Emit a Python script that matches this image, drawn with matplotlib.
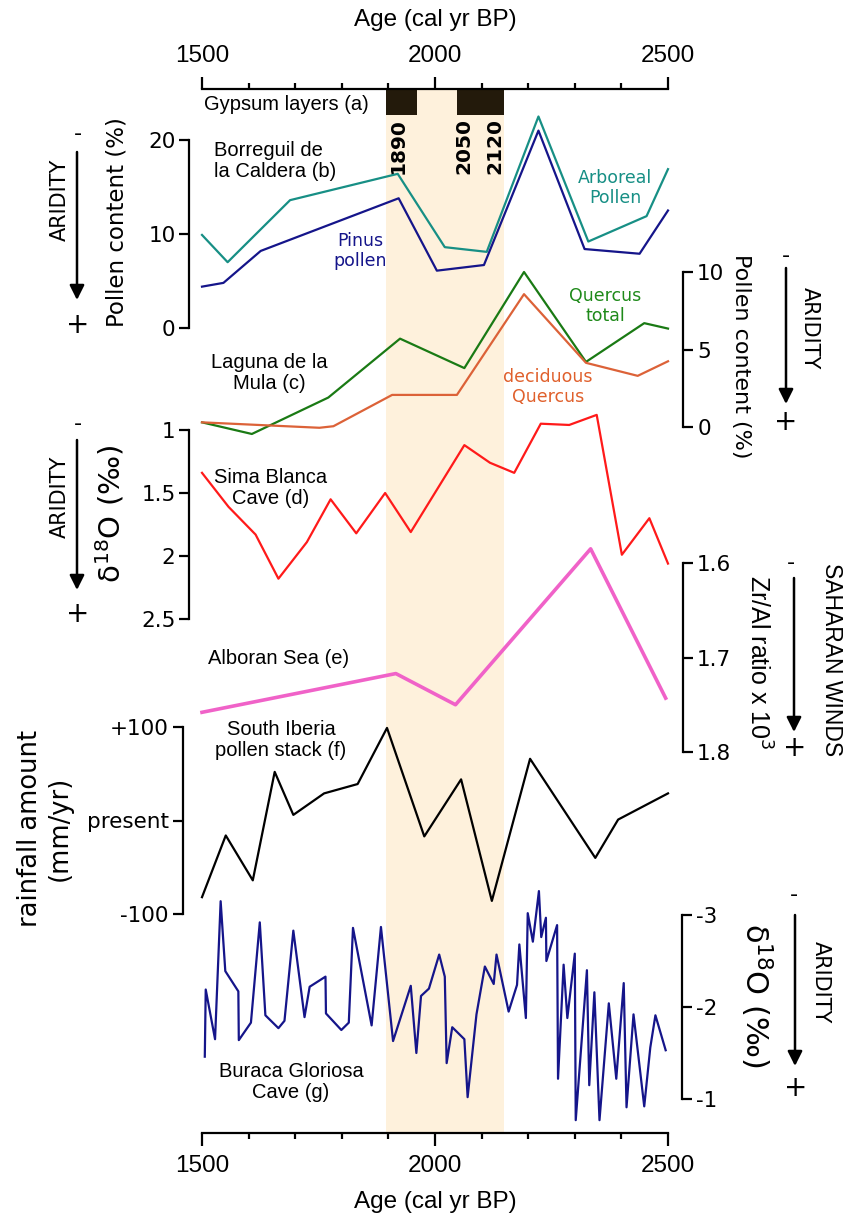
import matplotlib
matplotlib.use('Agg')
import matplotlib.pyplot as plt
from matplotlib.ticker import MultipleLocator

plt.rcParams['font.family'] = 'DejaVu Sans'
plt.rcParams['axes.unicode_minus'] = False

# ---- data ----
band = (1895, 2147)
gypsum_layers = [(1895, 1962), (2047, 2147)]
gypsum_labels = ['1890', '2050', '2120']
gypsum_label_age = [1920, 2062, 2129]

# (b) Borreguil de la Caldera, pollen %
arboreal_age = [1500, 1555, 1689, 1920, 2021, 2111, 2222, 2329, 2454, 2500]
arboreal = [9.9, 7.0, 13.6, 16.4, 8.6, 8.1, 22.5, 9.2, 11.9, 16.9]
pinus_age = [1500, 1546, 1626, 1922, 2004, 2105, 2222, 2321, 2439, 2500]
pinus = [4.4, 4.8, 8.2, 13.8, 6.1, 6.7, 21.0, 8.4, 7.9, 12.5]

# (c) Laguna de la Mula, pollen %
quercus_age = [1500, 1607, 1771, 1925, 2063, 2191, 2324, 2449, 2500]
quercus = [0.3, -0.45, 1.9, 5.7, 3.8, 10.0, 4.2, 6.7, 6.35]
decid_age = [1500, 1752, 1782, 1908, 2047, 2191, 2324, 2435, 2500]
decid = [0.3, -0.05, 0.05, 2.07, 2.07, 8.57, 4.14, 3.3, 4.24]

# (d) Sima Blanca Cave, d18O
sima_age = [1500, 1557, 1615, 1664, 1725, 1776, 1831, 1893, 1948, 2063,
            2118, 2170, 2227, 2288, 2347, 2401, 2460, 2500]
sima = [1.34, 1.61, 1.83, 2.18, 1.89, 1.55, 1.82, 1.50, 1.81, 1.12,
        1.26, 1.34, 0.95, 0.96, 0.88, 1.99, 1.70, 2.06]

# (e) Alboran Sea, Zr/Al
alboran_age = [1500, 1916, 2044, 2334, 2495]
alboran = [1.758, 1.717, 1.750, 1.585, 1.743]

# (f) South Iberia pollen stack, rainfall anomaly
stack_age = [1500, 1551, 1609, 1656, 1696, 1762, 1834, 1897, 1977, 2056,
             2122, 2204, 2344, 2393, 2500]
stack = [-82, -16, -64, 52, 6, 29, 39, 99, -17, 44, -86, 66, -40, 1, 29]

# (g) Buraca Gloriosa Cave, d18O
buraca_age = [1506, 1508, 1528, 1540, 1550, 1578, 1579, 1605, 1624, 1636,
              1664, 1677, 1696, 1720, 1731, 1765, 1766, 1799, 1815, 1824,
              1864, 1884, 1910, 1948, 1960, 1970, 1987, 2009, 2021, 2025,
              2037, 2063, 2070, 2089, 2107, 2126, 2132, 2158, 2176, 2181,
              2195, 2199, 2210, 2223, 2228, 2238, 2239, 2262, 2264, 2276,
              2284, 2300, 2302, 2326, 2331, 2342, 2353, 2373, 2389, 2405,
              2411, 2426, 2449, 2462, 2473, 2495]
buraca = [-1.46, -2.19, -1.65, -3.15, -2.39, -2.17, -1.64, -1.83, -2.92, -1.91,
          -1.77, -1.85, -2.83, -1.89, -2.22, -2.33, -1.93, -1.75, -1.83, -2.86,
          -1.80, -2.87, -1.63, -2.23, -1.50, -2.12, -2.20, -2.57, -2.33, -1.39,
          -1.78, -1.65, -1.02, -1.92, -2.44, -2.25, -2.57, -1.95, -2.24, -2.68,
          -1.88, -3.02, -2.71, -3.26, -2.76, -2.97, -2.50, -2.89, -1.22, -2.46,
          -1.88, -2.58, -0.77, -2.40, -1.15, -2.16, -0.77, -2.04, -1.22, -2.26,
          -0.91, -1.92, -0.92, -1.56, -1.91, -1.53]

# ---- layout (pixels) ----
W, H = 845, 1215
X0, X1 = 202, 668
ARIAL = 'Liberation Sans'

fig = plt.figure(figsize=(W / 100, H / 100), dpi=100)


def rect(ytop, ybot):
    return [X0 / W, 1 - ybot / H, (X1 - X0) / W, (ybot - ytop) / H]


# background: shaded interval, gypsum layers, age axes
ax0 = fig.add_axes(rect(89, 1133))
ax0.set_xlim(1500, 2500)
ax0.set_ylim(0, 1)
ax0.patch.set_visible(False)
ax0.axvspan(*band, color='#fef1dc', lw=0, zorder=0)
for a, b in gypsum_layers:
    ax0.axvspan(a, b, ymin=1 - 26 / 1044, ymax=1, color='#231a0b', lw=0)
for lab, a in zip(gypsum_labels, gypsum_label_age):
    ax0.text(a, 1 - 29 / 1044, lab, rotation=90, ha='center', va='top',
             fontsize=14.5, fontweight='bold')
for s in ['left', 'right']:
    ax0.spines[s].set_visible(False)
for s in ['top', 'bottom']:
    ax0.spines[s].set_linewidth(1.6)
ax0.set_yticks([])
ax0.set_xticks([1500, 2000, 2500])
ax0.xaxis.set_minor_locator(MultipleLocator(100))
ax0.tick_params(axis='x', which='both', top=True, bottom=True, labeltop=True,
                labelbottom=True, direction='out', width=1.6,
                labelsize=17.5, labelfontfamily=ARIAL)
ax0.tick_params(axis='x', which='major', length=9, pad=7)
ax0.tick_params(axis='x', which='minor', length=4.5)


def panel(ytop, ybot, lim, side, ticks, labels, offset):
    ax = fig.add_axes(rect(ytop, ybot))
    ax.set_xlim(1500, 2500)
    ax.set_ylim(*lim)
    ax.patch.set_visible(False)
    for s in ax.spines:
        ax.spines[s].set_visible(s == side)
    ax.spines[side].set_position(('outward', offset))
    ax.spines[side].set_linewidth(1.6)
    ax.set_xticks([])
    if side == 'right':
        ax.yaxis.tick_right()
    ax.set_yticks(ticks)
    ax.set_yticklabels(labels)
    ax.tick_params(axis='y', length=7, width=1.6, labelsize=15.5, pad=3)
    return ax


ax_b = panel(140, 328, (0, 20), 'left', [0, 10, 20], ['0', '10', '20'], 9)
ax_b.plot(arboreal_age, arboreal, color='#178f85', lw=1.6, clip_on=False)
ax_b.plot(pinus_age, pinus, color='#15158a', lw=1.6, clip_on=False)

ax_c = panel(272, 427, (0, 10), 'right', [0, 5, 10], ['0', '5', '10'], 11)
ax_c.plot(quercus_age, quercus, color='#1a7a14', lw=1.6, clip_on=False)
ax_c.plot(decid_age, decid, color='#dc6238', lw=1.6, clip_on=False)

ax_d = panel(430, 619, (2.5, 1), 'left', [1, 1.5, 2, 2.5],
             ['1', '1.5', '2', '2.5'], 9)
ax_d.plot(sima_age, sima, color='#ff1a1a', lw=1.6, clip_on=False)

ax_e = panel(563, 752, (1.8, 1.6), 'right', [1.6, 1.7, 1.8],
             ['1.6', '1.7', '1.8'], 11)
ax_e.plot(alboran_age, alboran, color='#f062c8', lw=2.6, clip_on=False)

ax_f = panel(727, 914, (-100, 100), 'left', [-100, 0, 100],
             ['-100', 'present', '+100'], 14)
ax_f.plot(stack_age, stack, color='black', lw=1.6, clip_on=False)

ax_g = panel(915, 1099, (-1, -3), 'right', [-3, -2, -1],
             ['-3', '-2', '-1'], 10)
ax_g.plot(buraca_age, buraca, color='#15158a', lw=1.6, clip_on=False)

# ---- overlay for text and arrows (pixel coordinates) ----
ov = fig.add_axes([0, 0, 1, 1])
ov.set_xlim(0, W)
ov.set_ylim(H, 0)
ov.axis('off')


def t(x, y, s, size=14.5, family=ARIAL, color='black', rot=0, ha='center',
      va='center', **kw):
    ov.text(x, y, s, fontsize=size, family=family, color=color, rotation=rot,
            ha=ha, va=va, linespacing=1.15, **kw)


def arrow(x, y0, y1):
    ov.annotate('', xy=(x, y1), xytext=(x, y0),
                arrowprops=dict(arrowstyle='-|>', lw=1.8, color='black',
                                mutation_scale=22, shrinkA=0, shrinkB=0))


V = 'DejaVu Sans'
t(435, 20, 'Age (cal yr BP)', size=17.5)
t(435, 1202, 'Age (cal yr BP)', size=17.5)

t(204, 104, 'Gypsum layers (a)', ha='left')
t(214, 161, 'Borreguil de\nla Caldera (b)', ha='left')
t(615, 188, 'Arboreal\nPollen', size=12.5, family=V, color='#178f85')
t(360, 251, 'Pinus\npollen', size=12.5, family=V, color='#15158a')
t(605, 306, 'Quercus\ntotal', size=12.5, family=V, color='#1f8a1a')
t(269, 373, 'Laguna de la\nMula (c)')
t(548, 387, 'deciduous\nQuercus', size=12.5, family=V, color='#e0602c')
t(271, 488, 'Sima Blanca\nCave (d)')
t(279, 658, 'Alboran Sea (e)')
t(281, 740, 'South Iberia\npollen stack (f)')
t(291, 1082, 'Buraca Gloriosa\nCave (g)')

# left side annotations
t(60, 200, 'ARIDITY', size=15, family=V, rot=90)
t(78, 134, '-', size=16, family=V)
arrow(77, 152, 300)
t(78, 325, '+', size=20, family=V)
t(117, 222, 'Pollen content (%)', size=16.5, family=V, rot=90)

t(60, 497, 'ARIDITY', size=15, family=V, rot=90)
t(78, 424, '-', size=16, family=V)
arrow(77, 440, 590)
t(78, 614, '+', size=20, family=V)
t(110, 514, 'δ$^{18}$O (‰)', size=21, family=V, rot=90)

t(45, 828, 'rainfall amount\n(mm/yr)', size=18.5, family=V, rot=90)

# right side annotations
t(741, 356, 'Pollen content (%)', size=16, family=V, rot=-90)
t(810, 328, 'ARIDITY', size=15, family=V, rot=-90)
t(786, 256, '-', size=16, family=V)
arrow(786, 268, 404)
t(786, 422, '+', size=20, family=V)

t(758, 662, 'Zr/Al ratio x 10$^3$', size=18, rot=-90)
t(832, 660, 'SAHARAN WINDS', size=16.5, rot=-90)
t(791, 563, '-', size=16, family=V)
arrow(794, 578, 732)
t(795, 748, '+', size=20, family=V)

t(756, 995, 'δ$^{18}$O (‰)', size=22, family=V, rot=-90)
t(821, 982, 'ARIDITY', size=15, family=V, rot=-90)
t(794, 895, '-', size=16, family=V)
arrow(795, 915, 1066)
t(796, 1088, '+', size=20, family=V)

fig.savefig('out.png', dpi=100)
